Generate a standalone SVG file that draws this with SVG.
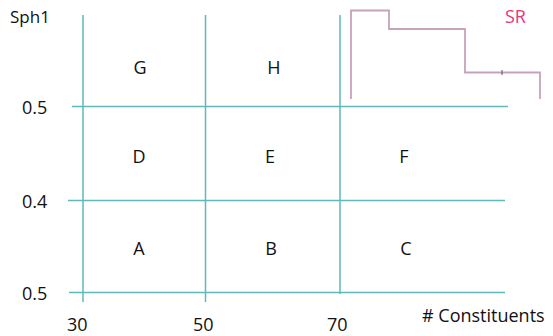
<svg xmlns="http://www.w3.org/2000/svg" width="553" height="336" viewBox="0 0 553 336">
<style>
.grid{stroke:#5fb9ba;stroke-width:1.5;fill:none}
.sr{stroke:#c7a2bb;stroke-width:1.8;fill:none}
.t{font-family:"Open Sans","Noto Sans",sans-serif;font-size:18px;fill:#111}
.lbl{font-family:"Open Sans","Noto Sans",sans-serif;font-size:18px;fill:#111;text-anchor:middle}
</style>
<rect width="553" height="336" fill="#fff"/>
<g id="connectors">
<line class="grid" x1="83" y1="15" x2="83" y2="302"/>
<line class="grid" x1="205.5" y1="15" x2="205.5" y2="302"/>
<line class="grid" x1="340" y1="15" x2="340" y2="294"/>
<line class="grid" x1="72" y1="106.5" x2="508" y2="106.5"/>
<line class="grid" x1="68" y1="200.5" x2="505" y2="200.5"/>
<line class="grid" x1="69" y1="292.5" x2="505" y2="292.5"/>
<polyline class="sr" points="351,99 351,10.5 389,10.5 389,29 465,29 465,72.5 540,72.5 540,99"/>
<line x1="502" y1="70" x2="502" y2="75" stroke="#555" stroke-width="1"/>
</g>
<g id="axis-labels">
<text class="t" x="10" y="23" style="font-size:17px">Sph1</text>
<text class="t" x="22" y="114">0.5</text>
<text class="t" x="22" y="208">0.4</text>
<text class="t" x="22" y="300">0.5</text>
<text class="t" x="67" y="331">30</text>
<text class="t" x="193" y="331">50</text>
<text class="t" x="327" y="331">70</text>
<text class="t" x="422" y="322">#  Constituents</text>
<text class="t" x="505" y="23" style="fill:#e6377f;font-size:18px">SR</text>
</g>
<g id="G"><text class="lbl" x="140" y="74">G</text></g>
<g id="H"><text class="lbl" x="274" y="74">H</text></g>
<g id="D"><text class="lbl" x="139" y="163">D</text></g>
<g id="E"><text class="lbl" x="270" y="163">E</text></g>
<g id="F"><text class="lbl" x="404" y="163">F</text></g>
<g id="A"><text class="lbl" x="139" y="255">A</text></g>
<g id="B"><text class="lbl" x="271" y="255">B</text></g>
<g id="C"><text class="lbl" x="406" y="255">C</text></g>
</svg>
